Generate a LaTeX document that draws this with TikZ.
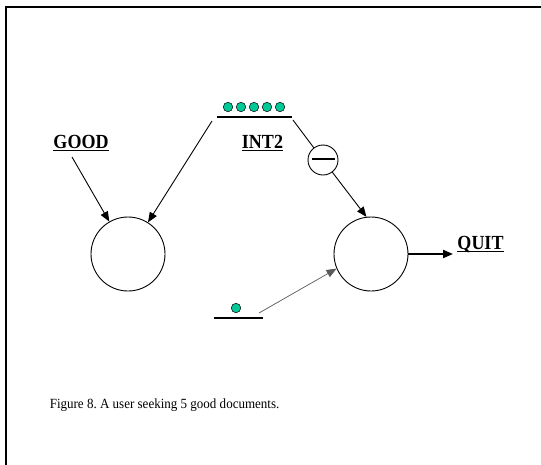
\documentclass[tikz,border=0pt]{standalone}
\usepackage{fontspec}
\setmainfont{Liberation Serif}
\newfontfamily\lblfont[FakeStretch=0.9]{Liberation Serif}
\newfontfamily\capfont[FakeStretch=0.93]{Liberation Serif}
\usetikzlibrary{arrows.meta}
\definecolor{tokenGreen}{RGB}{0,200,150}
\frenchspacing

\begin{document}
\begin{tikzpicture}[
    x=1pt, y=-1pt,
    line width=0.9pt,
    arr/.style={-{Triangle[length=10pt, width=8pt]}},
    bar/.style={line width=1.2pt},
    place/.style={circle, draw, minimum size=74pt, inner sep=0},
    inhib/.style={circle, draw, minimum size=30pt, inner sep=0},
    token/.style={circle, draw, line width=0.5pt, fill=tokenGreen,
        minimum size=9.5pt, inner sep=0},
    lbl/.style={font=\lblfont\bfseries\fontsize{20}{20}\selectfont, anchor=base,
        text depth=0pt, inner xsep=0pt, inner ysep=2pt},
    uline/.style={line width=1.5pt},
  ]
  \clip (0,0) rectangle (541,464);
  \useasboundingbox (0,0) rectangle (541,464);
  \draw[line width=2pt] (6,480) -- (6,7) -- (560,7);

  % labels
  \node[lbl] (good) at (81,148) {GOOD};
  \node[lbl] (int2) at (262.5,148) {INT2};
  \node[lbl] (quit) at (480.5,249) {QUIT};
  \foreach \n in {good,int2,quit}
    \draw[uline] (\n.south west) -- (\n.south east);

  % places
  \node[place] (p1) at (128,254) {};
  \node[place] (p2) at (371,254) {};
  \node[inhib] (inh) at (323,160) {\rule[0.5ex]{23pt}{1.8pt}};

  % token bars
  \coordinate (barAw) at (217,117);
  \coordinate (barAe) at (292,117);
  \draw[bar] (barAw) -- (barAe);
  \foreach \i in {0,...,4}
    \node[token] (tokA\i) at (228+13*\i,107) {};

  \coordinate (barBw) at (214,318);
  \coordinate (barBe) at (263,318);
  \draw[bar] (barBw) -- (barBe);
  \node[token] (tokB) at (236,308) {};

  % connectors
  \coordinate (goodOut) at (72,157);
  \coordinate (barAl) at (212,121);
  \coordinate (barAr) at (293,120);
  \coordinate (barBr) at (259,313);
  \coordinate (quitIn) at (453,254);

  \draw[arr] (goodOut) -- (p1);
  \draw[arr] (barAl) -- (p1);
  \draw (barAr) -- (inh);
  \draw[arr] (inh) -- (p2.97);
  \draw[arr, draw=black!65, line width=0.7pt] (barBr) -- (p2.203);
  \draw[arr, line width=2pt] (p2.east) -- (quitIn);

  \node[anchor=west, font=\capfont\fontsize{14}{14}\selectfont] (caption)
    at (46,405) {Figure 8. A user seeking 5 good documents.};
\end{tikzpicture}
\end{document}
